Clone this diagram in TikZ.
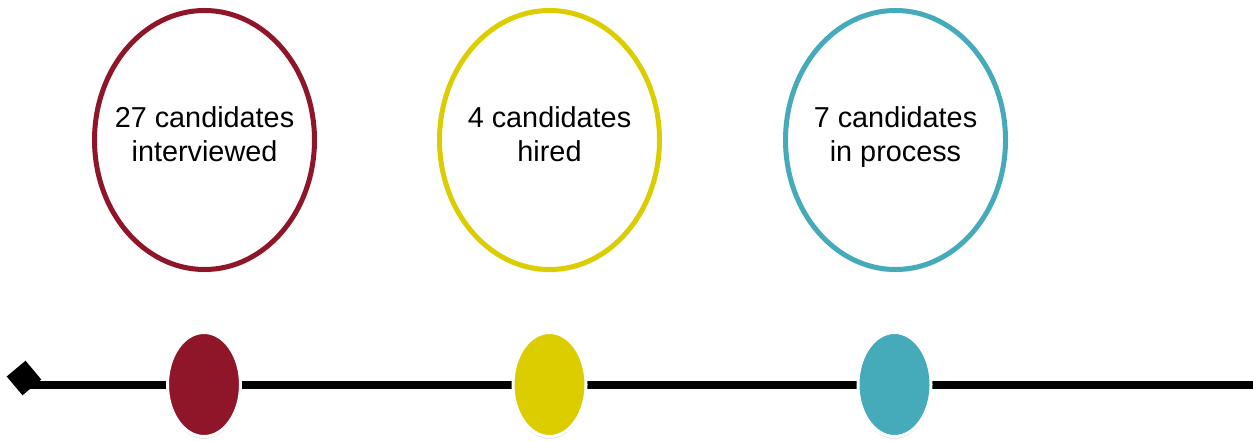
\documentclass[tikz,border=0pt]{standalone}
\usepackage{fontspec}
\setmainfont{Liberation Sans}
\usepackage{tikz}
\usetikzlibrary{positioning, shapes.geometric, shadows}
\definecolor{stagered}{HTML}{8F1629}
\definecolor{stageyellow}{HTML}{DBCD00}
\definecolor{stageteal}{HTML}{45AAB9}

\begin{document}
\begin{tikzpicture}[
    bubble/.style={ellipse,draw=#1,line width=0.1cm,fill=white,
        minimum width=4.4cm,minimum height=5.18cm,inner sep=0pt,
        drop shadow={shadow xshift=0pt,shadow yshift=-0.06cm,opacity=0.18}},
    marker/.style={ellipse,draw=white,line width=0.06cm,fill=#1,
        minimum width=1.46cm,minimum height=2.08cm,inner sep=0pt,
        drop shadow={shadow xshift=0pt,shadow yshift=-0.05cm,opacity=0.2}},
    caption/.style={align=center,anchor=north,
        font=\fontsize{16.4}{19.4}\selectfont},
    every node/.style={font=\small}
]
\useasboundingbox (0,0) rectangle (25.06,8.84);
% Timeline
\coordinate (start) at (0.48,1.14);
\coordinate (finish) at (25.06,1.14);
\draw[line width=0.16cm] (start) -- (finish);
\node[diamond,fill=black,minimum width=0.7cm,minimum height=0.7cm,
    inner sep=0pt,rotate=-5] (tip) at (0.48,1.28) {};
% Markers on the line
\node[marker=stagered] (m1) at (4.08,1.15) {};
\node[marker=stageyellow] (m2) at (10.99,1.15) {};
\node[marker=stageteal] (m3) at (17.89,1.15) {};
% Bubbles above
\node[bubble=stagered] (b1) at (4.09,6.04) {};
\node[caption] at ([yshift=0.79cm]b1.center) {27 candidates\\interviewed};
\node[bubble=stageyellow] (b2) at (10.99,6.04) {};
\node[caption] at ([yshift=0.79cm]b2.center) {4 candidates\\hired};
\node[bubble=stageteal] (b3) at (17.91,6.04) {};
\node[caption] at ([yshift=0.79cm]b3.center) {7 candidates\\in process};
\end{tikzpicture}
\end{document}
